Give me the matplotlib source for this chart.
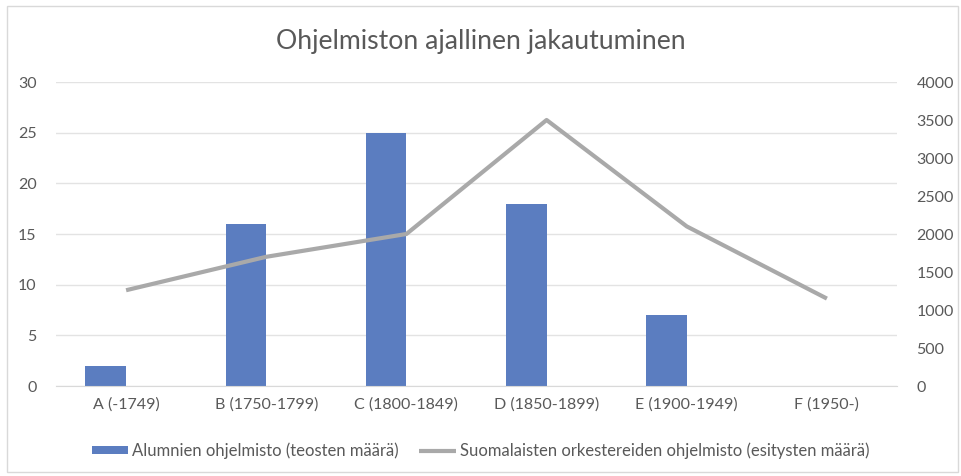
import numpy as np
import matplotlib.pyplot as plt
from matplotlib.patches import Rectangle

plt.rcParams['font.family'] = ['Lato', 'DejaVu Sans']

categories = ['A (-1749)', 'B (1750-1799)', 'C (1800-1849)', 'D (1850-1899)', 'E (1900-1949)', 'F (1950-)']
alumni = [2, 16, 25, 18, 7, 0]
orchestras = [1260, 1700, 2000, 3500, 2100, 1150]
left_ticks = [0, 5, 10, 15, 20, 25, 30]
right_ticks = [0, 500, 1000, 1500, 2000, 2500, 3000, 3500, 4000]

txt = '#595959'
fig = plt.figure(figsize=(9.61, 4.76), dpi=100)
ax = fig.add_axes([56/961, 1-386/476, 841/961, 304/476])
x = np.arange(len(categories))
w = 0.29
ax.bar(x - w/2, alumni, width=w, color='#5B7DC0', zorder=2,
       label='Alumnien ohjelmisto (teosten määrä)')
ax.set_ylim(0, 30)
ax.set_xlim(-0.5, len(categories) - 0.5)
ax.set_yticks(left_ticks)
ax.yaxis.grid(True, color='#E3E3E3', lw=1)
ax.set_axisbelow(True)
ax.set_xticks(x)
ax.set_xticklabels(categories)
for s in ax.spines.values():
    s.set_visible(False)
ax.spines['bottom'].set_visible(True)
ax.spines['bottom'].set_color('#D9D9D9')
ax.tick_params(length=0, colors=txt, labelsize=11.5)
ax.tick_params(axis='y', pad=14)
ax.tick_params(axis='x', pad=8)

ax2 = ax.twinx()
ax2.plot(x, orchestras, color='#A9A9A9', lw=3, solid_capstyle='butt',
         label='Suomalaisten orkestereiden ohjelmisto (esitysten määrä)')
ax2.set_ylim(0, 4000)
ax2.set_yticks(right_ticks)
for s in ax2.spines.values():
    s.set_visible(False)
ax2.tick_params(length=0, colors=txt, labelsize=11.5, pad=14)

fig.suptitle('Ohjelmiston ajallinen jakautuminen', y=1-42/476, va='center',
             fontsize=19.2, color=txt)
h1, l1 = ax.get_legend_handles_labels()
h2, l2 = ax2.get_legend_handles_labels()
fig.legend(h1 + h2, l1 + l2, loc='center', bbox_to_anchor=(0.5, 1-451/476), ncol=2,
           frameon=False, fontsize=12, labelcolor=txt, handlelength=2.2,
           handleheight=0.36, handletextpad=0.25, columnspacing=1.2)
fig.patches.append(Rectangle((7/961, 4/476), 951/961, 466/476, transform=fig.transFigure,
                             fill=False, ec='#D9D9D9', lw=1))
fig.savefig('out.png', dpi=100)
